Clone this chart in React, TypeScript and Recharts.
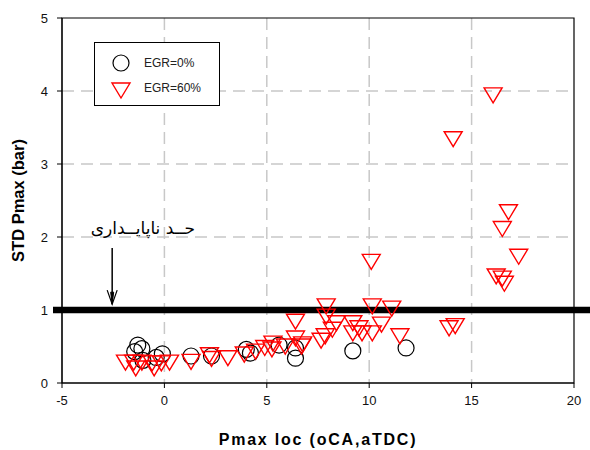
import {
  ScatterChart,
  Scatter,
  XAxis,
  YAxis,
  ZAxis,
  CartesianGrid,
  ReferenceLine,
  ReferenceArea,
  ReferenceDot,
  Legend,
  Label,
} from 'recharts';

// EGR = 0% (circles)
const egr0X = [-1.3, -1.1, -1.45, -1.05, -0.4, -0.1, 1.3, 2.3, 4.0, 4.2, 5.6, 6.4, 6.4, 9.2, 11.8];
const egr0Y = [0.52, 0.47, 0.43, 0.31, 0.35, 0.4, 0.37, 0.37, 0.46, 0.41, 0.52, 0.48, 0.34, 0.44, 0.48];

// EGR = 60% (triangles)
const egr60X = [
  -1.9, -1.5, -1.1, -0.6, -0.15, 0.25, -1.4, -0.5, 1.3, 2.2, 2.3, 3.1, 3.9, 4.45, 4.9, 5.25,
  5.3, 5.9, 6.7, 6.4, 6.4, 6.75, 7.65, 7.85, 7.9, 7.9, 8.2, 8.4, 9.2, 9.2, 9.5, 9.65, 10.15,
  10.15, 10.6, 11.1, 11.5, 10.1, 13.9, 14.2, 14.1, 16.05, 16.8, 16.5, 17.3, 16.2, 16.5, 16.6,
];
const egr60Y = [
  0.3, 0.3, 0.3, 0.29, 0.29, 0.3, 0.22, 0.22, 0.31, 0.4, 0.35, 0.36, 0.41, 0.45, 0.5, 0.48,
  0.56, 0.52, 0.52, 0.63, 0.86, 0.55, 0.6, 0.66, 1.07, 0.93, 0.75, 0.84, 0.84, 0.7, 0.77, 0.7, 0.7,
  1.07, 0.82, 1.04, 0.66, 1.68, 0.77, 0.8, 3.36, 3.96, 2.36, 2.13, 1.75, 1.48, 1.45, 1.38,
];

const xTicks = [-5, 0, 5, 10, 15, 20];
const yTicks = [0, 1, 2, 3, 4, 5];
const limitY = 1;
const limitLabel = 'حــد ناپایــداری';

const data0 = egr0X.map((x, i) => ({ x, y: egr0Y[i] }));
const data60 = egr60X.map((x, i) => ({ x, y: egr60Y[i] }));

const font = '"Liberation Sans", Arial, sans-serif';

const Circle = (props: any) => (
  <circle cx={props.cx} cy={props.cy} r={8} fill="none" stroke="#000" strokeWidth={1.2} />
);

const Triangle = (props: any) => {
  const { cx, cy } = props;
  return (
    <path
      d={`M${cx - 9},${cy - 6} L${cx + 9},${cy - 6} L${cx},${cy + 9} Z`}
      fill="none"
      stroke="#ff0000"
      strokeWidth={1.4}
    />
  );
};

const LegendBox = () => (
  <div
    style={{
      width: 126,
      height: 64,
      border: '1.5px solid #000',
      background: '#fff',
      fontFamily: font,
      fontSize: 12,
      color: '#222',
      boxSizing: 'border-box',
      position: 'relative',
    }}
  >
    <svg width={40} height={60} style={{ position: 'absolute', left: 0, top: 0 }}>
      <circle cx={26} cy={20} r={8} fill="none" stroke="#000" strokeWidth={1.2} />
      <path d="M17,40 L35,40 L26,55 Z" fill="none" stroke="#ff0000" strokeWidth={1.4} />
    </svg>
    <div style={{ position: 'absolute', left: 49, top: 13 }}>EGR=0%</div>
    <div style={{ position: 'absolute', left: 49, top: 38 }}>EGR=60%</div>
  </div>
);

export default function App() {
  return (
    <div style={{ position: 'absolute', left: 0, top: 0, width: 590, height: 450, background: '#fff' }}>
      <ScatterChart width={590} height={450} margin={{ top: 18, right: 16, left: 0, bottom: 0 }}>
        <CartesianGrid
          stroke="#c8c8c8"
          strokeWidth={1.5}
          strokeDasharray="12 7"
          verticalValues={[0, 5, 10, 15]}
          horizontalValues={[1, 2, 3, 4]}
        />
        <XAxis
          type="number"
          dataKey="x"
          domain={[-5, 20]}
          ticks={xTicks}
          height={67}
          tickSize={5}
          tickMargin={8}
          stroke="#000"
          tick={{ fill: '#111', fontSize: 13, fontFamily: font }}
        >
          <Label
            value="Pmax loc (oCA,aTDC)"
            position="insideBottom"
            offset={5}
            style={{ fontFamily: font, fontSize: 16, fontWeight: 'bold', fill: '#000', letterSpacing: 1.8 }}
          />
        </XAxis>
        <YAxis
          type="number"
          dataKey="y"
          domain={[0, 5]}
          ticks={yTicks}
          width={62}
          tickSize={5}
          tickMargin={9}
          stroke="#000"
          tick={{ fill: '#111', fontSize: 13, fontFamily: font }}
        >
          <Label
            content={({ viewBox }: any) => {
              const cx = viewBox.x + 18;
              const cy = viewBox.y + viewBox.height / 2;
              return (
                <text
                  x={cx}
                  y={cy}
                  transform={`rotate(-90 ${cx} ${cy})`}
                  textAnchor="middle"
                  dominantBaseline="central"
                  style={{ fontFamily: font, fontSize: 16.5, fontWeight: 'bold', fill: '#000' }}
                >
                  STD Pmax (bar)
                </text>
              );
            }}
          />
        </YAxis>
        <ZAxis range={[100, 100]} />
        <ReferenceArea x1={-5} x2={20} y1={0} y2={5} fill="none" stroke="#000" strokeWidth={1.2} />
        <ReferenceLine
          y={limitY}
          shape={(p: any) => (
            <line x1={p.x1 - 9} y1={p.y1} x2={p.x2 + 16} y2={p.y2} stroke="#000" strokeWidth={6.5} />
          )}
        />
        <ReferenceLine
          segment={[
            { x: -2.55, y: 1.85 },
            { x: -2.55, y: 1.08 },
          ]}
          shape={(p: any) => (
            <g stroke="#000" fill="none">
              <line x1={p.x1} y1={p.y1} x2={p.x2} y2={p.y2} strokeWidth={1.5} />
              <path d={`M${p.x2 - 5},${p.y2 - 14} L${p.x2},${p.y2} L${p.x2 + 5},${p.y2 - 14}`} strokeWidth={1.2} />
              <path d={`M${p.x2 - 1.5},${p.y2 - 12} L${p.x2},${p.y2} L${p.x2 + 1.5},${p.y2 - 12} Z`} fill="#000" strokeWidth={1} />
            </g>
          )}
        />
        <ReferenceDot
          x={-1.05}
          y={2.12}
          shape={(p: any) => (
            <text
              x={p.cx}
              y={p.cy}
              textAnchor="middle"
              dominantBaseline="central"
              direction="rtl"
              style={{ fontFamily: '"DejaVu Sans", sans-serif', fontSize: 17, fill: '#000' }}
            >
              {limitLabel}
            </text>
          )}
        />
        <Scatter name="EGR=0%" data={data0} shape={Circle} isAnimationActive={false} />
        <Scatter name="EGR=60%" data={data60} shape={Triangle} isAnimationActive={false} />
        <Legend
          layout="horizontal"
          verticalAlign="middle"
          align="center"
          content={() => <LegendBox />}
          wrapperStyle={{ position: 'absolute', left: 94, top: 42, width: 126, height: 64, bottom: 'auto', right: 'auto' }}
        />
      </ScatterChart>
    </div>
  );
}
